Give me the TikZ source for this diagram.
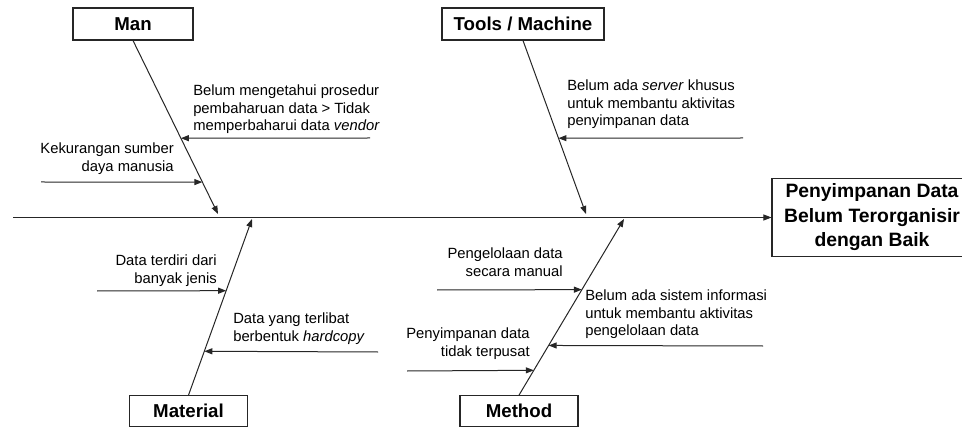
\documentclass[tikz,border=0pt]{standalone}
\usepackage{fontspec}
\setmainfont{Liberation Sans}
\usetikzlibrary{arrows.meta,calc}
\begin{document}
\begin{tikzpicture}[
  x=0.75pt, y=-0.75pt,
  every node/.style={font=\fontsize{11.1}{12.8}\selectfont, inner sep=0pt},
  catbox/.style={rectangle, draw=black!85, line width=0.8pt,
    font=\fontsize{14}{16}\selectfont\bfseries, minimum height=24pt},
  effectbox/.style={rectangle, draw=black!85, line width=0.8pt,
    font=\fontsize{14.5}{18.4}\selectfont\bfseries, align=center,
    minimum width=150pt, minimum height=58pt},
  bone/.style={draw=black!85, line width=0.75pt,
    -{Triangle[length=6pt,width=4.5pt]}},
  causearrow/.style={draw=black!85, line width=0.75pt,
    -{Triangle[length=6pt,width=4.5pt]}},
]
\useasboundingbox (0,0) rectangle (962,427);

% Category boxes
\node[catbox, minimum width=90pt] (man) at (133,24) {Man};
\node[catbox, minimum width=121.5pt] (tools) at (523,24) {Tools / Machine};
\node[catbox, minimum width=89pt, minimum height=23pt] (material) at (188.5,411) {Material};
\node[catbox, minimum width=88.5pt, minimum height=23pt] (method) at (519,411) {Method};

% Effect box
\node[effectbox] (effect) at (872,217.5)
  {Penyimpanan Data\\Belum Terorganisir\\dengan Baik};

% Spine
\coordinate (tail) at (13,217.5);
\draw[causearrow] (tail) -- (effect.west);

% Bones
\coordinate (manTip) at (218,214);
\coordinate (toolsTip) at (586,214);
\coordinate (materialTip) at (252,219);
\coordinate (methodTip) at (624,219);
\draw[bone] (man.south) -- (manTip);
\draw[bone] (tools.south) -- (toolsTip);
\draw[bone] (material.north) -- (materialTip);
\draw[bone] (method.north) -- (methodTip);

% Points on the bones
\coordinate (man1) at ($(man.south)!0.563!(manTip)$);
\coordinate (man2) at ($(man.south)!0.816!(manTip)$);
\coordinate (tools1) at ($(tools.south)!0.563!(toolsTip)$);
\coordinate (material1) at ($(material.north)!0.593!(materialTip)$);
\coordinate (material2) at ($(material.north)!0.249!(materialTip)$);
\coordinate (method1) at ($(method.north)!0.599!(methodTip)$);
\coordinate (method2) at ($(method.north)!0.282!(methodTip)$);
\coordinate (method3) at ($(method.north)!0.141!(methodTip)$);

% Free ends of the cause arrows
\coordinate (man1s) at (370,138);
\coordinate (man2s) at (41,182);
\coordinate (tools1s) at (743,138);
\coordinate (material1s) at (97,291);
\coordinate (material2s) at (378,352);
\coordinate (method1s) at (437,290);
\coordinate (method2s) at (763,346);
\coordinate (method3s) at (407,371);

% Cause arrows
\draw[causearrow] (man1s) -- (man1);
\draw[causearrow] (man2s) -- (man2);
\draw[causearrow] (tools1s) -- (tools1);
\draw[causearrow] (material1s) -- (material1);
\draw[causearrow] (material2s) -- (material2);
\draw[causearrow] (method1s) -- (method1);
\draw[causearrow] (method2s) -- (method2);
\draw[causearrow] (method3s) -- (method3);

% Cause texts
\node[anchor=north west, align=left] (manT1) at (193,85)
  {Belum mengetahui prosedur\\pembaharuan data > Tidak\\memperbaharui data \textit{vendor}};
\node[anchor=north east, align=right] (manT2) at (174,143)
  {Kekurangan sumber\\daya manusia};
\node[anchor=north west, align=left] (toolsT1) at (567,80)
  {Belum ada \textit{server} khusus\\untuk membantu aktivitas\\penyimpanan data};
\node[anchor=north east, align=right] (materialT1) at (217,255)
  {Data terdiri dari\\banyak jenis};
\node[anchor=north west, align=left] (materialT2) at (233,313)
  {Data yang terlibat\\berbentuk \textit{hardcopy}};
\node[anchor=north east, align=right] (methodT1) at (563,248)
  {Pengelolaan data\\secara manual};
\node[anchor=north west, align=left] (methodT2) at (585,290)
  {Belum ada sistem informasi\\untuk membantu aktivitas\\pengelolaan data};
\node[anchor=north east, align=right] (methodT3) at (530,328)
  {Penyimpanan data\\tidak terpusat};

\end{tikzpicture}
\end{document}
